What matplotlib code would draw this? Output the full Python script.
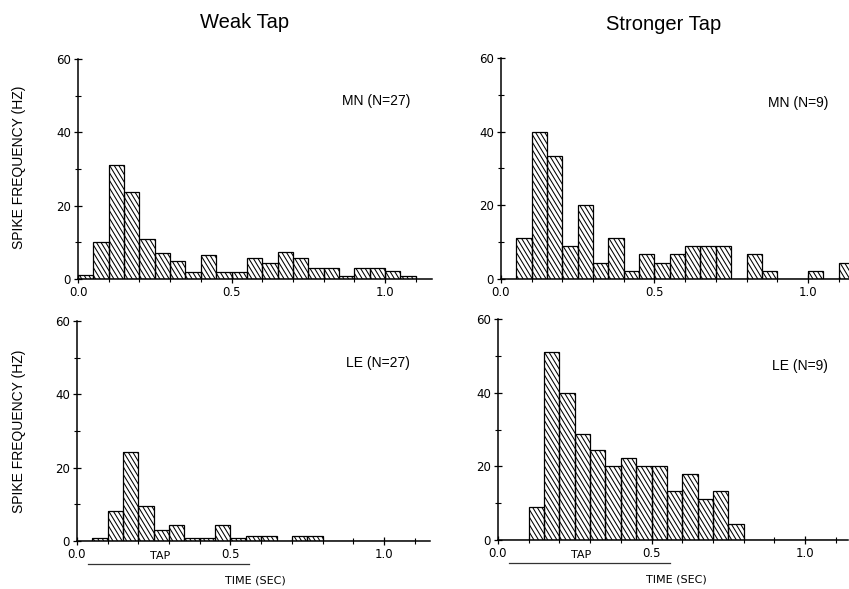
import numpy as np
import matplotlib.pyplot as plt
from matplotlib.ticker import MultipleLocator
from matplotlib.path import Path
from matplotlib.collections import LineCollection
import matplotlib.transforms as mtransforms

# bin width 0.05 s, bins start at 0.0
bin_w = 0.05

weak_mn = [1.1, 10.1, 31.1, 23.7, 10.8, 7.1, 5.0, 1.9, 6.5, 1.9, 2.0,
           5.7, 4.3, 7.3, 5.7, 2.9, 2.9, 0.7, 2.9, 2.9, 2.3, 0.7]
strong_mn = [0, 11.1, 40.0, 33.3, 8.9, 20.0, 4.4, 11.1, 2.2, 6.7, 4.4,
             6.7, 8.9, 8.9, 8.9, 0, 6.7, 2.2, 0, 0, 2.2, 0, 4.4]
weak_le = [0, 0.7, 8.1, 24.4, 9.6, 3.0, 4.4, 0.7, 0.7, 4.4, 0.7,
           1.5, 1.5, 0, 1.5, 1.5, 0, 0, 0, 0, 0, 0]
strong_le = [0, 0, 8.9, 51.1, 40.0, 28.9, 24.4, 20.0, 22.2, 20.0, 20.0,
             13.3, 17.8, 11.1, 13.3, 4.4, 0, 0, 0, 0, 0, 0]

titles = ["Weak Tap", "Stronger Tap"]
labels = [["MN (N=27)", "MN (N=9)"], ["LE (N=27)", "LE (N=9)"]]
tap_start, tap_end = 0.035, 0.56

W, H = 849, 589
fig = plt.figure(figsize=(W / 100, H / 100), dpi=100)

def px_axes(left, top, right, bottom):
    return fig.add_axes([left / W, 1 - bottom / H, (right - left) / W, (bottom - top) / H])

def steep_hatch(ax, bars, box, step=4.6, slope=1.65):
    # old plotter hatching: steeper than 45 deg, clipped to the bars
    left, top, right, bottom = box
    y_top, y_bot = H - top, H - bottom
    drop = (y_top - y_bot) / slope
    segs = [[(c, y_top), (c + drop, y_bot)]
            for c in np.arange(left - drop - 10, right + 10, step)]
    lc = LineCollection(segs, colors="black", linewidths=0.75,
                        transform=mtransforms.IdentityTransform(), zorder=2)
    paths = [b.get_path().transformed(b.get_patch_transform()) for b in bars]
    lc.set_clip_path(Path.make_compound_path(*paths), ax.transData)
    ax.add_collection(lc, autolim=False)

panels = [
    (weak_mn, (78, 59, 432, 279), 1.153, labels[0][0], (0.938, 0.81)),
    (strong_mn, (501, 58, 849, 279), 1.134, labels[0][1], (0.94, 0.796)),
    (weak_le, (77, 321, 430, 541), 1.15, labels[1][0], (0.943, 0.81)),
    (strong_le, (498, 319, 848, 540), 1.14, labels[1][1], (0.943, 0.787)),
]

for i, (vals, box, xmax, lab, lpos) in enumerate(panels):
    ax = px_axes(*box)
    edges = np.arange(len(vals)) * bin_w
    bars = ax.bar(edges, vals, width=bin_w, align="edge", facecolor="white",
                  edgecolor="none", zorder=1)
    ax.bar(edges, vals, width=bin_w, align="edge", fill=False,
           edgecolor="black", linewidth=0.9, zorder=3)
    ax.set_xlim(0, xmax)
    ax.set_ylim(0, 60)
    steep_hatch(ax, bars, box)
    for s in ["top", "right"]:
        ax.spines[s].set_visible(False)
    for s in ["left", "bottom"]:
        ax.spines[s].set_linewidth(1.1)
    ax.set_yticks([0, 20, 40, 60])
    ax.yaxis.set_minor_locator(MultipleLocator(10))
    ax.set_xticks([0.0, 0.5, 1.0])
    ax.set_xticklabels(["0.0", "0.5", "1.0"])
    ax.xaxis.set_minor_locator(MultipleLocator(0.1))
    ax.tick_params(which="major", direction="inout", length=6, width=0.9, pad=2)
    ax.tick_params(which="minor", direction="inout", length=4, width=0.8)
    for t in ax.get_xticklabels() + ax.get_yticklabels():
        t.set_fontfamily("DejaVu Sans")
        t.set_fontsize(8.5)
    ax.text(lpos[0], lpos[1], lab, transform=ax.transAxes, ha="right",
            va="center", fontsize=10, family="Liberation Sans")

    if i >= 2:
        trans = mtransforms.blended_transform_factory(ax.transData, ax.transAxes)
        ax.plot([tap_start, tap_end], [-0.105, -0.105], color="#333333",
                lw=0.9, transform=trans, clip_on=False)
        ax.text(0.27, -0.068, "TAP", transform=trans, ha="center", va="center",
                fontsize=8, family="DejaVu Sans")
        ax.text(0.58, -0.18, "TIME (SEC)", transform=trans, ha="center",
                va="center", fontsize=8, family="DejaVu Sans")

fig.text(244.5 / W, 1 - 23 / H, titles[0], ha="center", va="center",
         fontsize=14.5, family="Liberation Sans")
fig.text(664 / W, 1 - 24 / H, titles[1], ha="center", va="center",
         fontsize=14.5, family="Liberation Sans")
for yc in [167, 431]:
    fig.text(19 / W, 1 - yc / H, "SPIKE FREQUENCY (HZ)", rotation=90,
             ha="center", va="center", fontsize=10, family="Liberation Sans")

fig.savefig("out.png", dpi=100)
